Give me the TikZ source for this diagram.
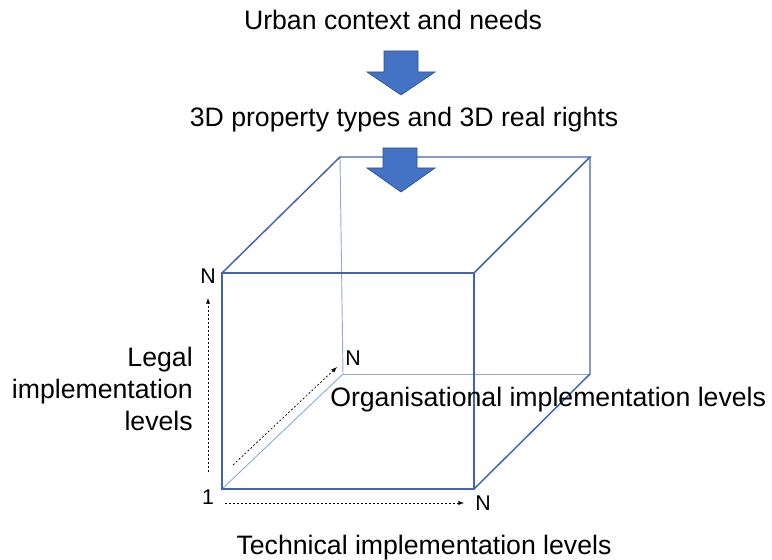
\documentclass[tikz,border=0pt]{standalone}
\usepackage{fontspec}
\setmainfont{Liberation Sans}
\definecolor{cubeblue}{HTML}{4064B0}
\definecolor{cubelight}{HTML}{8FAADC}
\definecolor{arrowfill}{HTML}{4472C4}
\definecolor{arrowline}{HTML}{2F528F}
\tikzset{
  frontedge/.style={cubeblue, line width=1.1pt},
  backedge/.style={cubelight, line width=0.7pt},
  levelarrow/.style={-latex, dash pattern=on 1.5pt off 1.5pt, line width=0.5pt},
  blockarrow/.style={fill=arrowfill, draw=arrowline, line width=0.5pt},
  caption/.style={font=\fontsize{20}{23.8}\selectfont, inner sep=0pt},
  endlabel/.style={font=\fontsize{16}{18}\selectfont, inner sep=0pt}
}

\begin{document}
\begin{tikzpicture}[x=0.75pt, y=-0.75pt]
\useasboundingbox (0,0) rectangle (772,560);

% cube corners
\coordinate (FTL) at (222,273);
\coordinate (FTR) at (474,273);
\coordinate (FBR) at (474,489);
\coordinate (FBL) at (222,489);
\coordinate (BTL) at (340,157);
\coordinate (BTR) at (590,157);
\coordinate (BBR) at (590,374);
\coordinate (BBL) at (343,374);

\draw[backedge] (BTL) -- (BBL);
\draw[backedge] (BBL) -- (BBR);
\draw[backedge] (BBL) -- (FBL);
\draw[frontedge] (FTL) -- (FTR) -- (FBR) -- (FBL) -- cycle;
\draw[frontedge] (FTL) -- (BTL) -- (BTR) -- (FTR);
\draw[frontedge] (BTR) -- (BBR) -- (FBR);

% texts
\node (urban) [caption] at (393,20) {Urban context and needs};
\node (types) [caption] at (404,120) {3D property types and 3D real rights};
\node (tech)  [caption] at (424,548) {Technical implementation levels};
\node (orga)  [caption, anchor=west] at (330,400) {Organisational implementation levels};
\node (legal) [caption, align=right, anchor=east] at (193,389) {Legal\\implementation\\levels};

\node (nLegal) [endlabel] at (208,276) {N};
\node (nOrga)  [endlabel] at (353,358) {N};
\node (nTech)  [endlabel] at (483,503) {N};
\node (one)    [endlabel] at (208,497) {1};

% block arrows
\draw[blockarrow] (384,51) -- (418,51) -- (418,72) -- (435,72) -- (401,95)
  -- (367,72) -- (384,72) -- cycle;
\draw[blockarrow] (383,148) -- (417,148) -- (417,168) -- (435,168) -- (401,192)
  -- (367,168) -- (383,168) -- cycle;

% level arrows
\coordinate (legalS) at (208,472);
\coordinate (legalE) at (208,298);
\coordinate (techS) at (225,503);
\coordinate (techE) at (464,503);
\coordinate (orgaS) at (233,465);
\coordinate (orgaE) at (337,367);
\draw[levelarrow] (legalS) -- (legalE);
\draw[levelarrow] (techS) -- (techE);
\draw[levelarrow] (orgaS) -- (orgaE);
\end{tikzpicture}
\end{document}
